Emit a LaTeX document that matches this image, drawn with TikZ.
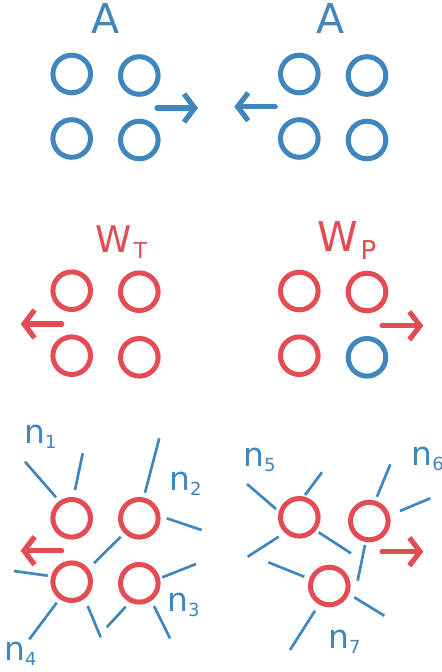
\documentclass[tikz,border=0pt]{standalone}
\usepackage{fontspec}
\setmainfont{DejaVu Sans}
\usetikzlibrary{arrows.meta}

\definecolor{atom}{RGB}{63,134,190}
\definecolor{hot}{RGB}{227,76,83}

\newcommand{\subs}[1]{\raisebox{-3.75pt}{\fontsize{13.5}{14}\selectfont#1}}

\tikzset{
  ring/.style={circle, draw=#1, line width=3.75pt, minimum size=28.2pt, inner sep=0pt},
  ring/.default=hot,
  stub/.style={draw=atom, line width=2pt},
  push/.style={draw=#1, line width=3.9pt, -{Straight Barb[length=8pt,width=21pt]}},
  lbl/.style={inner sep=0pt, text=#1},
  nlbl/.style={inner sep=0pt, text=atom, anchor=base west, font=\fontsize{24.7}{26}\selectfont}
}

\begin{document}
\begin{tikzpicture}[x=0.75pt,y=-0.75pt,line cap=round,line join=round]

\path[use as bounding box] (0,0) rectangle (442,672);

% row 1: A
\node[lbl=atom, anchor=base, font=\fontsize{30.8}{32}\selectfont] (aL) at (106,33) {A};
\node[lbl=atom, anchor=base, font=\fontsize{30.8}{32}\selectfont] (aR) at (330.3,33) {A};
\node[ring=atom] (a1) at (71.7,74) {};
\node[ring=atom] (a2) at (139.3,75.5) {};
\node[ring=atom] (a3) at (71.7,138.5) {};
\node[ring=atom] (a4) at (139.3,140) {};
\node[ring=atom] (a5) at (299.3,74) {};
\node[ring=atom] (a6) at (367,75.5) {};
\node[ring=atom] (a7) at (299.3,138.5) {};
\node[ring=atom] (a8) at (367,140) {};
\draw[push=atom] (157,108) -- (198,108);
\draw[push=atom] (275.3,106.7) -- (234.3,106.7);

% row 2: W_T and W_P
\node[lbl=hot, anchor=base west, font=\fontsize{27.5}{29}\selectfont] (wT) at (95,252)
  {W\hspace{1.5pt}\raisebox{-4.5pt}{\fontsize{16.5}{17}\selectfont T}};
\node[lbl=hot, anchor=base west, font=\fontsize{30.8}{32}\selectfont] (wP) at (317,251.7)
  {W\hspace{2pt}\raisebox{-5.7pt}{\fontsize{19.5}{20}\selectfont P}};
\node[ring] (t1) at (71.7,290.7) {};
\node[ring] (t2) at (139.3,291.7) {};
\node[ring] (t3) at (71.7,355.7) {};
\node[ring] (t4) at (139.3,357.3) {};
\node[ring] (p1) at (299.3,291) {};
\node[ring] (p2) at (367,292) {};
\node[ring] (p3) at (299.3,355.7) {};
\node[ring=atom] (p4) at (367,357.3) {};
\draw[push=hot] (61.7,324) -- (20.7,324);
\draw[push=hot] (382,325.7) -- (423.3,325.7);

% row 3: neighbours
\node[ring] (s1) at (71.7,518.3) {};
\node[ring] (s2) at (139.3,518.3) {};
\node[ring] (s3) at (71.7,581.7) {};
\node[ring] (s4) at (139.3,583.3) {};
\node[ring] (f1) at (299.3,517.3) {};
\node[ring] (f2) at (369.3,521) {};
\node[ring] (f3) at (329.3,586) {};
\draw[push=hot] (61.7,550.7) -- (20.7,550.7);
\draw[push=hot] (382,551.7) -- (423.3,551.7);

\foreach \ax/\ay/\bx/\by in {25/461.7/56/497.3, 82.7/453.3/75/490, 159.3/438.3/145/492.7,
    166.7/518.3/201.7/530, 120.7/536.7/94/563.3, 14/571/47.7/575.7, 196/564/162.3/577.3,
    56.7/602.7/29.3/639.3, 87.7/606/100.7/637.3, 125.7/606.7/106.7/627.3, 154/606/170/638.3,
    247/484/276/509, 322/472.3/305/495, 278.7/536.7/247.7/556.7, 318.7/532.3/351/553.3,
    390.3/464.3/377/496.7, 430.3/498.3/400/511, 365/545/357.7/580.7, 268.3/562.3/304.3/576.7,
    354.3/597.3/384.3/615.7, 315/610.7/290/650}
  \draw[stub, line cap=butt] (\ax,\ay) -- (\bx,\by);

\node[nlbl] (n1) at (24,443.3) {n\subs{1}};
\node[nlbl] (n2) at (169,490) {n\subs{2}};
\node[nlbl] (n3) at (167,611.7) {n\subs{3}};
\node[nlbl] (n4) at (4,660) {n\subs{4}};
\node[nlbl] (n5) at (243,466.7) {n\subs{5}};
\node[nlbl] (n6) at (411.3,465) {n\subs{6}};
\node[nlbl] (n7) at (328,648.3) {n\subs{7}};

\end{tikzpicture}
\end{document}
